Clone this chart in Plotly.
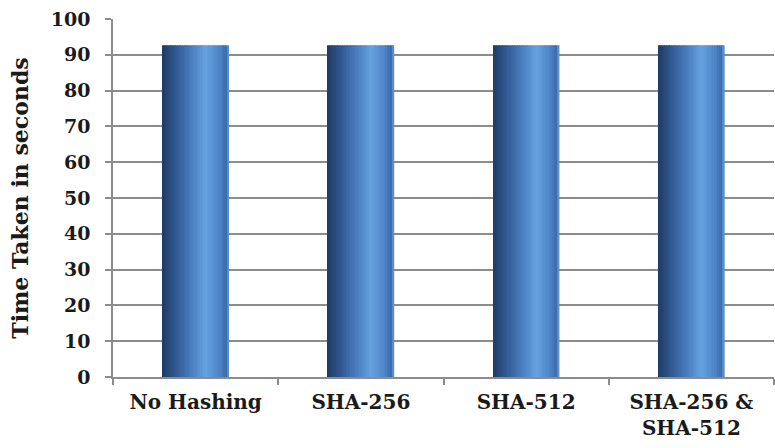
import plotly.graph_objects as go

# Data
categories = ["No Hashing", "SHA-256", "SHA-512", "SHA-256 &<br>SHA-512"]
time_taken = [92.7, 92.7, 92.7, 92.7]
y_ticks = list(range(0, 101, 10))

# Horizontal shading across each bar (cylinder look)
stops = [
    (0.00, (0x1f, 0x3a, 0x63)),
    (0.15, (0x2c, 0x50, 0x86)),
    (0.45, (0x4a, 0x7e, 0xbf)),
    (0.66, (0x66, 0xa1, 0xdf)),
    (0.86, (0x4f, 0x86, 0xc8)),
    (0.97, (0x3a, 0x6b, 0xad)),
    (1.00, (0x6f, 0xa4, 0xdc)),
]


def shade(t):
    for (t0, c0), (t1, c1) in zip(stops[:-1], stops[1:]):
        if t0 <= t <= t1:
            f = (t - t0) / (t1 - t0) if t1 > t0 else 0
            r, g, b = (round(a + (b_ - a) * f) for a, b_ in zip(c0, c1))
            return f"rgb({r},{g},{b})"
    return "rgb(111,164,220)"


bar_width = 0.4
n_strips = 40
strip_w = bar_width / n_strips

fig = go.Figure()
for i in range(n_strips):
    t = (i + 0.5) / n_strips
    fig.add_trace(go.Bar(
        x=categories,
        y=time_taken,
        width=strip_w * 1.15,
        offset=-bar_width / 2 + i * strip_w,
        marker=dict(color=shade(t), line=dict(width=0)),
        showlegend=False,
        hoverinfo="y",
    ))

font_family = "Century Schoolbook, DejaVu Serif, serif"
text_color = "#1a1a1a"
axis_grey = "#8c8c8c"
x_tick_font = dict(family=font_family, size=20, color=text_color, weight="bold")
y_tick_font = dict(family=font_family, size=19, color=text_color, weight="bold")

fig.update_layout(
    width=775,
    height=448,
    barmode="overlay",
    plot_bgcolor="white",
    paper_bgcolor="white",
    margin=dict(l=113, r=1, t=19, b=71),
    font=dict(family=font_family, size=20, color=text_color),
    xaxis=dict(
        showline=True,
        linecolor=axis_grey,
        linewidth=1.5,
        ticks="outside",
        tickson="boundaries",
        ticklen=6,
        tickcolor=axis_grey,
        tickwidth=1.5,
        tickfont=x_tick_font,
        ticklabelstandoff=6,
        showgrid=False,
    ),
    yaxis=dict(
        range=[0, 100],
        tickvals=y_ticks,
        showline=True,
        linecolor=axis_grey,
        linewidth=1.5,
        ticks="outside",
        ticklen=6,
        tickcolor=axis_grey,
        tickwidth=1.5,
        ticklabelstandoff=11,
        showgrid=True,
        gridcolor=axis_grey,
        gridwidth=1.5,
        zeroline=False,
        tickfont=y_tick_font,
        title=dict(
            text="Time Taken in seconds",
            font=dict(family=font_family, size=22, color=text_color, weight="bold"),
            standoff=16,
        ),
    ),
)

fig.write_html("out.html")
